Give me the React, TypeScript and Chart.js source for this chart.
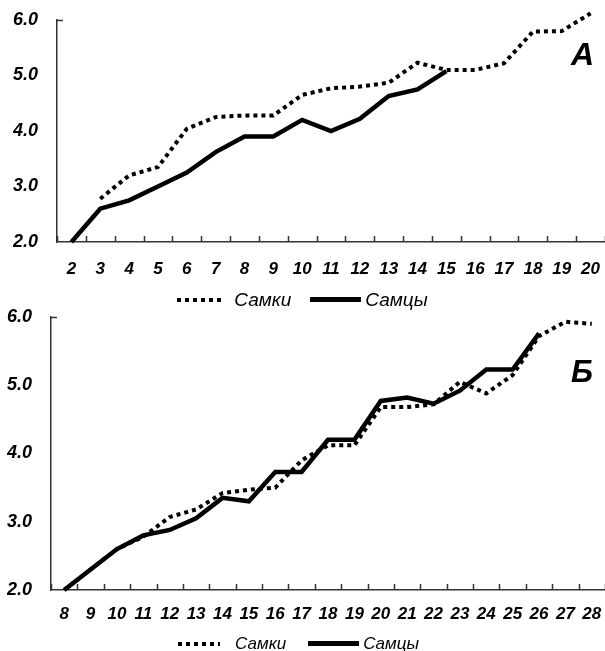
import React, { useEffect, useRef } from 'react';
import { Chart, registerables } from 'chart.js';

Chart.register(...registerables);

// Panel А: age 2–20
const agesA = ['2', '3', '4', '5', '6', '7', '8', '9', '10', '11', '12', '13', '14', '15', '16', '17', '18', '19', '20'];
const femalesA = [null, 2.78, 3.2, 3.35, 4.04, 4.25, 4.28, 4.28, 4.65, 4.77, 4.8, 4.87, 5.23, 5.1, 5.1, 5.22, 5.79, 5.8, 6.12];
const malesA = [2.0, 2.6, 2.75, 3.0, 3.25, 3.62, 3.9, 3.9, 4.2, 4.0, 4.22, 4.63, 4.75, 5.08, null, null, null, null, null];

// Panel Б: age 8–28
const agesB = ['8', '9', '10', '11', '12', '13', '14', '15', '16', '17', '18', '19', '20', '21', '22', '23', '24', '25', '26', '27', '28'];
const femalesB = [2.0, 2.3, 2.6, 2.78, 3.07, 3.18, 3.42, 3.47, 3.5, 3.9, 4.12, 4.12, 4.68, 4.68, 4.72, 5.05, 4.88, 5.15, 5.72, 5.93, 5.9];
const malesB = [2.0, 2.3, 2.6, 2.8, 2.88, 3.05, 3.35, 3.3, 3.73, 3.73, 4.2, 4.2, 4.77, 4.82, 4.73, 4.92, 5.23, 5.23, 5.76, null, null];

const seriesNames = ['Самки', 'Самцы'];
const yRange = { min: 2, max: 6, step: 1 };

const FAMILY = '"Liberation Sans", Arial, sans-serif';
const AXIS_COLOR = '#333';

// Short inward tick marks on the category boundaries, plus a stub at the top of the value axis
const innerTicks = {
  id: 'innerTicks',
  afterDraw(chart: any) {
    const { ctx, chartArea } = chart;
    const x = chart.scales.x;
    const y = chart.scales.y;
    ctx.save();
    ctx.strokeStyle = AXIS_COLOR;
    ctx.lineWidth = 1.5;
    ctx.beginPath();
    const n = x.getLabels().length;
    for (let i = 0; i <= n; i++) {
      const px = Math.round(x.getPixelForValue(i - 0.5)) + 0.5;
      ctx.moveTo(px, chartArea.bottom);
      ctx.lineTo(px, chartArea.bottom - 6);
    }
    const top = Math.round(y.getPixelForValue(y.max)) + 0.5;
    ctx.moveTo(chartArea.left, top);
    ctx.lineTo(chartArea.left + 6, top);
    ctx.stroke();
    ctx.restore();
  },
};

type PanelProps = {
  labels: string[];
  females: (number | null)[];
  males: (number | null)[];
  width: number;
  height: number;
  padTop: number;
  padLeft: number;
  yWidth: number;
  xHeight: number;
  xLabelLine: number;
  top: number;
};

function Panel(p: PanelProps) {
  const ref = useRef<HTMLCanvasElement | null>(null);
  useEffect(() => {
    if (!ref.current) return;
    const chart = new Chart(ref.current, {
      type: 'line',
      data: {
        labels: p.labels,
        datasets: [
          {
            label: seriesNames[0],
            data: p.females,
            borderColor: '#000',
            backgroundColor: '#000',
            borderWidth: 4,
            borderDash: [4, 4],
            pointRadius: 0,
            tension: 0,
            clip: false,
          },
          {
            label: seriesNames[1],
            data: p.males,
            borderColor: '#000',
            backgroundColor: '#000',
            borderWidth: 4.5,
            pointRadius: 0,
            tension: 0,
            clip: false,
          },
        ],
      },
      options: {
        responsive: false,
        animation: false,
        layout: { padding: { top: p.padTop, left: p.padLeft, right: 0, bottom: 0 } },
        plugins: {
          tooltip: { enabled: false },
          legend: { display: false },
        },
        scales: {
          x: {
            type: 'category',
            offset: true,
            grid: { display: true, drawOnChartArea: false, drawTicks: false, offset: true },
            border: { display: true, color: AXIS_COLOR, width: 1.5 },
            ticks: {
              autoSkip: false,
              maxRotation: 0,
              padding: 0,
              color: '#000',
              font: { family: FAMILY, size: 17, style: 'italic', weight: 'bold', lineHeight: `${p.xLabelLine}px` },
            },
            afterFit: (s: any) => {
              s.height = p.xHeight;
            },
          },
          y: {
            min: yRange.min,
            max: yRange.max,
            grid: { display: true, drawOnChartArea: false, drawTicks: false },
            border: { display: true, color: AXIS_COLOR, width: 1.5 },
            ticks: {
              stepSize: yRange.step,
              padding: 0,
              crossAlign: 'far',
              color: '#000',
              font: { family: FAMILY, size: 18, style: 'italic', weight: 'bold' },
              callback: (v: any) => Number(v).toFixed(1),
            },
            afterFit: (s: any) => {
              s.width = p.yWidth;
            },
          },
        },
      },
      plugins: [innerTicks],
    } as any);
    return () => chart.destroy();
  }, []);
  return (
    <canvas
      ref={ref}
      width={p.width}
      height={p.height}
      style={{ position: 'absolute', left: 0, top: p.top, width: p.width, height: p.height }}
    />
  );
}

type LegendProps = {
  top: number;
  left: number;
  fontSize: number;
  dotWidth: number;
  dotGap: number;
  itemGap: number;
  lineGap: number;
};

// Legend row: dotted sample + "Самки", solid sample + "Самцы"
function Legend(l: LegendProps) {
  const text: React.CSSProperties = {
    fontFamily: FAMILY,
    fontStyle: 'italic',
    fontSize: l.fontSize,
    lineHeight: 1,
    color: '#000',
    whiteSpace: 'nowrap',
  };
  return (
    <div
      style={{
        position: 'absolute',
        left: l.left,
        top: l.top,
        width: 605,
        height: l.fontSize,
        display: 'flex',
        justifyContent: 'center',
        alignItems: 'center',
      }}
    >
      <div
        style={{
          width: l.dotWidth,
          height: 4,
          background: 'repeating-linear-gradient(to right, #000 0 4px, transparent 4px 8px)',
          marginRight: l.dotGap,
        }}
      />
      <span style={text}>{seriesNames[0]}</span>
      <div style={{ width: 51, height: 5, background: '#000', marginLeft: l.itemGap, marginRight: l.lineGap }} />
      <span style={text}>{seriesNames[1]}</span>
    </div>
  );
}

const letterStyle: React.CSSProperties = {
  position: 'absolute',
  fontFamily: FAMILY,
  fontStyle: 'italic',
  fontWeight: 'bold',
  lineHeight: 1,
  color: '#000',
};

export default function App() {
  return (
    <div
      style={{
        position: 'absolute',
        left: 0,
        top: 0,
        width: 605,
        height: 651,
        overflow: 'hidden',
        background: '#fff',
      }}
    >
      <Panel
        labels={agesA}
        females={femalesA}
        males={malesA}
        width={605}
        height={300}
        padTop={20}
        padLeft={13}
        yWidth={44}
        xHeight={58}
        xLabelLine={54}
        top={0}
      />
      <Panel
        labels={agesB}
        females={femalesB}
        males={malesB}
        width={605}
        height={340}
        padTop={17}
        padLeft={7}
        yWidth={44}
        xHeight={50}
        xLabelLine={48}
        top={300}
      />
      <Legend top={290} left={0} fontSize={19} dotWidth={46} dotGap={11} itemGap={19} lineGap={4} />
      <Legend top={635} left={-4} fontSize={17} dotWidth={42} dotGap={15} itemGap={22} lineGap={4} />
      <div style={{ ...letterStyle, left: 571, top: 38, fontSize: 32 }}>А</div>
      <div style={{ ...letterStyle, left: 571, top: 356, fontSize: 31 }}>Б</div>
    </div>
  );
}
